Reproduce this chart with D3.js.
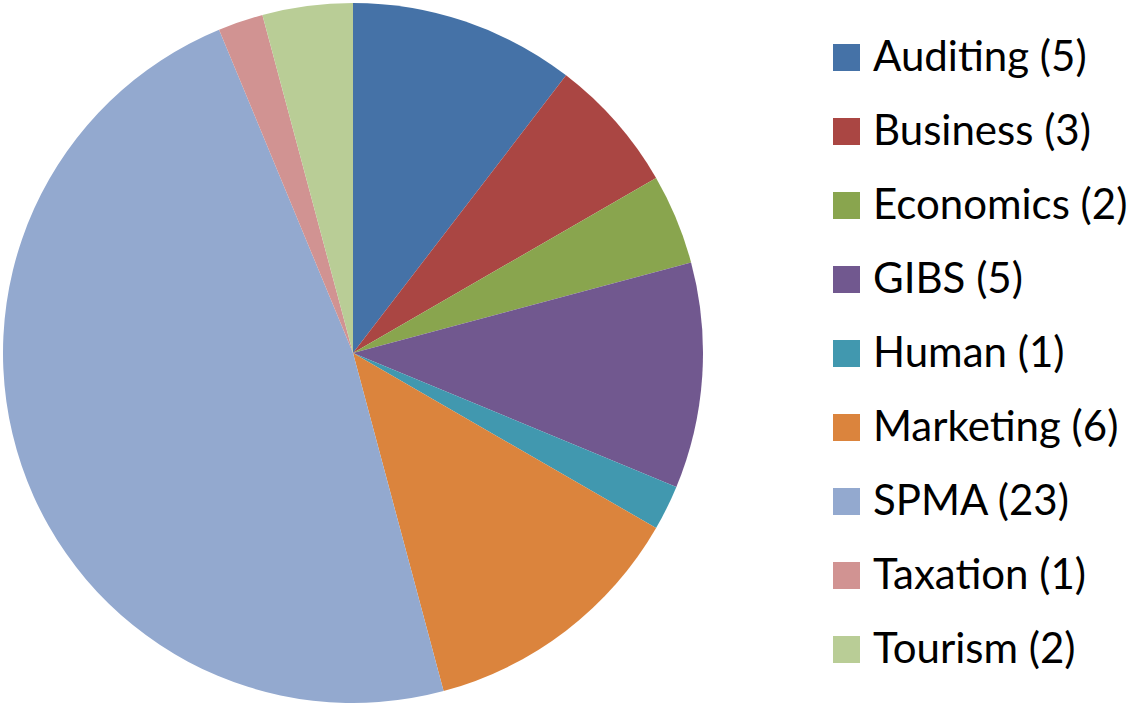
<!DOCTYPE html>
<html>
<head>
<meta charset="utf-8">
<script src="https://cdn.jsdelivr.net/npm/d3@7"></script>
<style>
  body { margin: 0; background: #fff; }
  text { font-family: Lato, "Open Sans", sans-serif; }
</style>
</head>
<body>
<div id="chart"></div>
<script>
// categories, counts and colours of the slices
const categories = ["Auditing", "Business", "Economics", "GIBS", "Human", "Marketing", "SPMA", "Taxation", "Tourism"];
const counts = [5, 3, 2, 5, 1, 6, 23, 1, 2];
const colors = ["#4572A7", "#AA4643", "#89A54E", "#71588F", "#4198AF", "#DB843D", "#93A9CF", "#D19392", "#B9CD96"];

const width = 1142, height = 704;
const cx = 353, cy = 353, radius = 350;

const data = categories.map((c, i) => ({name: c, value: counts[i], color: colors[i]}));

const svg = d3.select("#chart")
    .append("svg")
    .attr("width", width)
    .attr("height", height);

const pie = d3.pie()
    .value(d => d.value)
    .sort(null);

const arc = d3.arc()
    .innerRadius(0)
    .outerRadius(radius);

svg.append("g")
    .attr("transform", `translate(${cx},${cy})`)
    .selectAll("path")
    .data(pie(data))
    .enter()
    .append("path")
    .attr("d", arc)
    .attr("fill", d => d.data.color);

// legend
const legendY = d3.scalePoint()
    .domain(categories)
    .range([57.5, 649.5]);

const legend = svg.append("g");
const rows = legend.selectAll("g")
    .data(data)
    .enter()
    .append("g")
    .attr("transform", d => `translate(833, ${legendY(d.name)})`);

rows.append("rect")
    .attr("x", 0)
    .attr("y", -13.5)
    .attr("width", 27)
    .attr("height", 27)
    .attr("fill", d => d.color);

rows.append("text")
    .attr("x", 40)
    .attr("y", 13)
    .attr("font-size", 42)
    .attr("fill", "#000")
    .text(d => `${d.name} (${d.value})`);
</script>
</body>
</html>
